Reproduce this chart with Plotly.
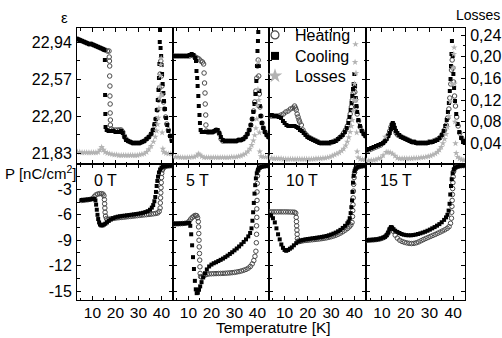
import plotly.graph_objects as go

# ---------------- data ----------------
FIELDS = ["0 T", "5 T", "10 T", "15 T"]

X_TICKS = [10, 20, 30, 40]
X_TICKTEXT = ["10", "20", "30", "40"]
X_MINOR = [5, 15, 25, 35]
EPS_TICKS = [21.83, 22.20, 22.57, 22.94]
EPS_TICKTEXT = ["21,83", "22,20", "22,57", "22,94"]
EPS_MINOR = [22.015, 22.385, 22.755]
LOSS_TICKS = [0.04, 0.08, 0.12, 0.16, 0.20, 0.24]
LOSS_TICKTEXT = ["0,04", "0,08", "0,12", "0,16", "0,20", "0,24"]
LOSS_MINOR = [0.02, 0.06, 0.10, 0.14, 0.18, 0.22]
P_TICKS = [-15, -12, -9, -6, -3]
P_TICKTEXT = ["-15", "-12", "-9", "-6", "-3"]
P_MINOR = [-13.5, -10.5, -7.5, -4.5, -1.5]

# (temperature K, permittivity) cooling / heating ; (T, losses) ; (T, P nC/cm2)
EPS_COOL_0T = [(3.5,22.97),(4.5,22.96),(5.5,22.95),(6.5,22.94),(7.5,22.93),(8.5,22.92),(9.5,22.92),(10.5,22.91),(11.5,22.90),(12.5,22.89),(13.5,22.88),(14.5,22.87),(15.2,22.86),(15.4,22.76),(15.5,22.41),(15.6,22.22),(15.7,22.09),(16.2,22.06),(17,22.05),(18,22.05),(19,22.05),(20,22.04),(21,22.04),(21.8,22.04),(22.5,22.05),(23.2,22.03),(23.9,21.99),(24.6,21.96),(25.5,21.95),(26.5,21.94),(27.5,21.93),(28.5,21.93),(29.5,21.93),(30.5,21.93),(31.5,21.94),(32.5,21.95),(33.5,21.97),(34.5,21.99),(35.5,22.02),(36.3,22.06),(37,22.12),(37.5,22.17),(38,22.26),(38.4,22.36),(38.7,22.46),(38.9,22.58),(39.1,22.72),(39.25,22.94),(39.35,23.06),(39.6,22.88),(39.85,22.80),(40.05,22.71),(40.25,22.62),(40.5,22.52),(40.8,22.43),(41.1,22.35),(41.5,22.27),(42,22.18),(42.5,22.11),(43,22.05),(43.7,22.00),(44.5,21.95)]
EPS_HEAT_0T = [(3.5,22.97),(4.5,22.96),(5.5,22.95),(6.5,22.94),(7.5,22.93),(8.5,22.92),(9.5,22.92),(10.5,22.91),(11.5,22.90),(12.5,22.89),(13.5,22.88),(14.5,22.87),(15.5,22.86),(16.5,22.85),(17.2,22.85),(17.3,22.79),(17.4,22.75),(17.5,22.70),(17.5,22.60),(17.6,22.50),(17.6,22.40),(17.7,22.32),(17.7,22.23),(17.8,22.16),(17.8,22.11),(18.2,22.07),(19,22.06),(20,22.06),(21,22.06),(21.8,22.06),(22.5,22.06),(23.2,22.04),(23.9,22.00),(24.6,21.97),(25.5,21.95),(26.5,21.94),(27.5,21.93),(28.5,21.93),(29.5,21.93),(30.5,21.93),(31.5,21.94),(32.5,21.95),(33.5,21.97),(34.5,21.99),(35.5,22.02),(36.3,22.06),(37,22.11),(37.6,22.17),(38.2,22.26),(38.7,22.36),(39.1,22.48),(39.4,22.62),(39.7,22.75),(39.95,22.60),(40.2,22.50),(40.5,22.42),(40.9,22.34),(41.3,22.27),(41.8,22.19),(42.3,22.12),(43,22.06),(43.8,22.00),(44.5,21.96)]
LOSS_0T = [(3.5,0.024),(4.5,0.024),(5.5,0.023),(6.5,0.023),(7.5,0.023),(8.5,0.023),(9.5,0.023),(10.5,0.023),(11.5,0.023),(12.5,0.024),(13.3,0.028),(14.0,0.033),(14.8,0.028),(15.5,0.024),(16.5,0.022),(17.5,0.021),(18.5,0.020),(19.5,0.019),(20.5,0.019),(21.5,0.018),(22.5,0.018),(23.5,0.018),(24.5,0.018),(25.5,0.018),(26.5,0.018),(27.5,0.018),(28.5,0.018),(29.5,0.018),(30.5,0.019),(31.5,0.020),(32.5,0.021),(33.5,0.024),(34.5,0.029),(35.5,0.035),(36.5,0.043),(37.3,0.052),(37.9,0.063),(38.3,0.075),(38.6,0.087),(38.9,0.105),(39.1,0.124),(39.3,0.145),(39.5,0.165),(39.7,0.185),(39.85,0.197),(40.1,0.13),(40.3,0.06),(40.6,0.03),(41.0,0.024),(42,0.022),(43,0.021),(44,0.021),(44.8,0.021)]
P_COOL_0T = [(5.3,-4.25),(6.0,-4.27),(7.0,-4.23),(8.0,-4.2),(9.0,-4.17),(10.0,-4.13),(10.8,-4.12),(11.3,-4.3),(11.6,-4.8),(11.9,-5.4),(12.2,-6.0),(12.5,-6.5),(12.9,-6.9),(13.3,-7.15),(13.8,-7.25),(14.4,-7.25),(15.0,-7.15),(15.6,-7.05),(16.3,-6.9),(17.1,-6.72),(18,-6.55),(19,-6.4),(20,-6.3),(21,-6.22),(22,-6.17),(23,-6.13),(24,-6.1),(25,-6.06),(26,-6.03),(27,-5.99),(28,-5.95),(29,-5.91),(30,-5.87),(31,-5.82),(32,-5.76),(33,-5.68),(34,-5.57),(35,-5.4),(35.8,-5.15),(36.4,-4.85),(36.9,-4.4),(37.3,-3.9),(37.6,-3.3),(37.9,-2.6),(38.2,-2.0),(38.5,-1.5),(38.9,-1.0),(39.4,-0.65),(40,-0.42),(40.8,-0.3),(41.6,-0.25),(42.5,-0.22),(43.5,-0.2),(44.5,-0.18)]
P_HEAT_0T = [(5.3,-4.3),(6,-4.28),(7,-4.25),(8,-4.22),(9,-4.18),(10,-4.08),(10.8,-3.85),(11.5,-3.65),(12.3,-3.55),(13.1,-3.5),(13.9,-3.5),(14.6,-3.55),(15.0,-3.75),(15.2,-4.2),(15.3,-4.7),(15.4,-5.2),(15.5,-5.7),(15.7,-6.15),(16.1,-6.45),(16.8,-6.55),(17.6,-6.5),(18.5,-6.45),(19.5,-6.41),(20.5,-6.37),(21.5,-6.34),(22.5,-6.31),(23.5,-6.28),(24.5,-6.25),(25.5,-6.22),(26.5,-6.19),(27.5,-6.16),(28.5,-6.13),(29.5,-6.1),(30.5,-6.07),(31.5,-6.04),(32.5,-6.01),(33.5,-5.98),(34.5,-5.95),(35.5,-5.92),(36.5,-5.88),(37.5,-5.84),(38.4,-5.78),(39.0,-5.6),(39.4,-5.2),(39.5,-4.6),(39.6,-4.0),(39.7,-3.4),(39.8,-2.8),(39.9,-2.2),(40.0,-1.6),(40.1,-1.1),(40.4,-0.7),(40.9,-0.45),(41.6,-0.32),(42.5,-0.25),(43.5,-0.22),(44.5,-0.2)]

EPS_COOL_5T = [(3.5,22.80),(4.5,22.80),(5.5,22.80),(6.5,22.80),(7.5,22.80),(8.5,22.80),(9.5,22.80),(10.5,22.81),(11.4,22.82),(12.2,22.81),(12.9,22.78),(13.3,22.75),(13.5,22.65),(13.8,22.58),(14.0,22.50),(14.3,22.40),(14.5,22.30),(14.8,22.21),(15.0,22.13),(15.3,22.06),(15.8,22.04),(16.5,22.04),(17.5,22.04),(18.5,22.04),(19.5,22.04),(20.5,22.04),(21.3,22.05),(22.0,22.06),(22.7,22.06),(23.4,22.03),(24.1,21.99),(24.9,21.96),(25.8,21.95),(26.8,21.95),(27.8,21.95),(28.8,21.95),(29.8,21.95),(30.8,21.95),(31.8,21.96),(32.8,21.96),(33.8,21.97),(34.8,21.99),(35.6,22.02),(36.4,22.06),(37.1,22.11),(37.7,22.17),(38.2,22.24),(38.7,22.32),(39.1,22.42),(39.5,22.55),(39.8,22.70),(40.0,22.85),(40.2,22.95),(40.35,23.04),(40.6,22.70),(40.8,22.45),(41.0,22.30),(41.4,22.20),(41.9,22.13),(42.5,22.08),(43.2,22.04),(44.0,22.01),(44.8,21.99)]
EPS_HEAT_5T = [(3.5,22.80),(4.5,22.80),(5.5,22.80),(6.5,22.80),(7.5,22.80),(8.5,22.80),(9.5,22.80),(10.5,22.80),(11.4,22.81),(12.2,22.80),(13.0,22.79),(13.8,22.78),(14.6,22.77),(15.4,22.75),(16.1,22.74),(16.6,22.72),(16.8,22.63),(17.0,22.53),(17.2,22.43),(17.3,22.32),(17.5,22.21),(17.6,22.11),(17.8,22.05),(18.3,22.04),(19.0,22.04),(19.8,22.04),(20.6,22.04),(21.4,22.05),(22.1,22.06),(22.8,22.05),(23.5,22.02),(24.2,21.97),(24.9,21.95),(25.8,21.95),(26.8,21.95),(27.8,21.95),(28.8,21.95),(29.8,21.95),(30.8,21.95),(31.8,21.96),(32.8,21.96),(33.8,21.97),(34.8,21.99),(35.6,22.02),(36.4,22.06),(37.1,22.11),(37.7,22.17),(38.3,22.25),(38.8,22.34),(39.3,22.45),(39.7,22.58),(40.0,22.70),(40.3,22.76),(40.55,22.60),(40.8,22.42),(41.1,22.29),(41.5,22.20),(42.0,22.13),(42.6,22.08),(43.3,22.04),(44.1,22.01),(44.8,21.99)]
LOSS_5T = [(3.5,0.015),(4.5,0.015),(5.5,0.015),(6.5,0.014),(7.5,0.014),(8.5,0.014),(9.5,0.014),(10.5,0.014),(11.5,0.015),(12.5,0.015),(13.5,0.017),(14.3,0.021),(15.0,0.019),(15.8,0.016),(16.8,0.014),(17.8,0.014),(18.8,0.014),(19.8,0.014),(20.8,0.014),(21.8,0.014),(22.8,0.014),(23.8,0.014),(24.8,0.014),(25.8,0.014),(26.8,0.014),(27.8,0.014),(28.8,0.015),(29.8,0.015),(30.8,0.015),(31.8,0.016),(32.8,0.017),(33.8,0.019),(34.8,0.021),(35.8,0.025),(36.7,0.030),(37.5,0.037),(38.2,0.045),(38.8,0.055),(39.3,0.068),(39.7,0.085),(40.0,0.110),(40.2,0.140),(40.4,0.190),(40.6,0.120),(40.8,0.060),(41.0,0.025),(41.5,0.016),(42.5,0.015),(43.5,0.015),(44.5,0.015)]
P_COOL_5T = [(3.5,-7.05),(4.5,-7.05),(5.5,-7.05),(6.5,-7.03),(7.5,-7.02),(8.5,-7.0),(9.5,-6.98),(10.3,-6.97),(10.8,-7.3),(11.2,-8.3),(11.6,-9.6),(12.0,-11.0),(12.4,-12.4),(12.8,-13.8),(13.2,-14.8),(13.6,-15.25),(14.1,-15.2),(14.6,-14.85),(15.1,-14.45),(15.7,-13.95),(16.4,-13.4),(17.2,-12.9),(18.0,-12.45),(19,-12.1),(20,-11.88),(21,-11.72),(22,-11.6),(23,-11.46),(24,-11.32),(25,-11.17),(26,-11.0),(27,-10.82),(28,-10.62),(29,-10.42),(30,-10.2),(31,-9.98),(32,-9.74),(33,-9.48),(34,-9.2),(35,-8.9),(36,-8.55),(36.8,-8.15),(37.4,-7.6),(37.8,-6.7),(38.1,-5.7),(38.4,-4.6),(38.7,-3.5),(39.0,-2.5),(39.3,-1.7),(39.7,-1.1),(40.2,-0.7),(40.9,-0.45),(41.7,-0.33),(42.6,-0.27),(43.6,-0.23),(44.6,-0.2)]
P_HEAT_5T = [(3.5,-7.07),(4.5,-7.07),(5.5,-7.06),(6.5,-7.05),(7.5,-7.03),(8.5,-7.0),(9.5,-6.95),(10.3,-6.75),(11.0,-6.5),(11.7,-6.3),(12.4,-6.15),(13.0,-6.07),(13.6,-6.1),(14.0,-6.35),(14.3,-6.8),(14.4,-7.43),(14.5,-8.21),(14.6,-9.0),(14.7,-9.79),(14.8,-10.57),(14.9,-11.35),(15.0,-12.14),(15.1,-12.92),(15.3,-13.3),(15.8,-13.35),(16.5,-13.25),(17.3,-13.1),(18.1,-13.02),(19,-12.98),(20,-12.96),(21,-12.95),(22,-12.94),(23,-12.93),(24,-12.92),(25,-12.91),(26,-12.9),(27,-12.88),(28,-12.86),(29,-12.83),(30,-12.8),(31,-12.75),(32,-12.7),(33,-12.63),(34,-12.55),(35,-12.45),(36,-12.3),(36.9,-12.1),(37.7,-11.8),(38.4,-11.4),(38.9,-10.9),(39.3,-10.3),(39.5,-9.3),(39.6,-8.3),(39.6,-7.3),(39.7,-6.3),(39.7,-5.3),(39.8,-4.3),(39.8,-3.3),(39.9,-2.3),(40.0,-1.4),(40.2,-0.8),(40.6,-0.5),(41.3,-0.35),(42.3,-0.26),(43.4,-0.22),(44.5,-0.2)]

EPS_COOL_10T = [(3.5,22.21),(4.5,22.21),(5.5,22.20),(6.5,22.20),(7.5,22.19),(8.5,22.18),(9.3,22.15),(10.0,22.13),(10.8,22.11),(11.6,22.10),(12.5,22.10),(13.4,22.10),(14.3,22.10),(15.1,22.09),(15.8,22.08),(16.6,22.06),(17.4,22.05),(18.2,22.03),(19.0,22.01),(19.8,21.99),(20.6,21.98),(21.4,21.97),(22.3,21.96),(23.2,21.95),(24.1,21.94),(25.0,21.93),(26.0,21.93),(27.0,21.93),(28.0,21.93),(29.0,21.93),(30.0,21.94),(31.0,21.94),(32.0,21.95),(33.0,21.97),(34.0,21.99),(35.0,22.01),(35.9,22.04),(36.7,22.08),(37.4,22.13),(37.9,22.19),(38.4,22.26),(38.8,22.33),(39.1,22.40),(39.4,22.47),(39.7,22.52),(40.0,22.62),(40.3,22.50),(40.6,22.38),(40.9,22.30),(41.2,22.24),(41.7,22.16),(42.4,22.10),(43.2,22.05),(44.0,22.02),(44.8,22.00)]
EPS_HEAT_10T = [(3.5,22.20),(4.5,22.20),(5.5,22.20),(6.5,22.20),(7.5,22.20),(8.5,22.21),(9.5,22.22),(10.5,22.24),(11.5,22.25),(12.5,22.27),(13.5,22.28),(14.3,22.30),(14.7,22.28),(15.0,22.26),(15.4,22.22),(15.8,22.19),(16.2,22.16),(16.5,22.14),(17.2,22.11),(17.9,22.06),(18.6,22.03),(19.4,22.01),(20.2,21.99),(21.0,21.98),(21.8,21.97),(22.7,21.96),(23.6,21.95),(24.5,21.94),(25.5,21.93),(26.5,21.93),(27.5,21.93),(28.5,21.93),(29.5,21.93),(30.5,21.94),(31.5,21.95),(32.5,21.96),(33.5,21.98),(34.5,22.00),(35.4,22.03),(36.2,22.06),(37.0,22.10),(37.7,22.16),(38.2,22.22),(38.7,22.29),(39.1,22.36),(39.5,22.43),(39.9,22.48),(40.2,22.44),(40.5,22.36),(40.8,22.29),(41.2,22.22),(41.8,22.15),(42.5,22.09),(43.3,22.05),(44.1,22.02),(44.8,22.00)]
LOSS_10T = [(3.5,0.013),(4.5,0.013),(5.5,0.012),(6.5,0.012),(7.5,0.012),(8.5,0.012),(9.5,0.011),(10.5,0.011),(11.5,0.011),(12.5,0.011),(13.5,0.011),(14.5,0.011),(15.5,0.011),(16.5,0.011),(17.5,0.011),(18.5,0.011),(19.5,0.011),(20.5,0.011),(21.5,0.011),(22.5,0.011),(23.5,0.012),(24.5,0.012),(25.5,0.012),(26.5,0.013),(27.5,0.013),(28.5,0.014),(29.5,0.015),(30.5,0.017),(31.5,0.019),(32.5,0.021),(33.5,0.023),(34.5,0.026),(35.4,0.030),(36.3,0.036),(37.0,0.043),(37.6,0.051),(38.2,0.061),(38.7,0.072),(39.1,0.083),(39.5,0.100),(39.8,0.120),(40.1,0.150),(40.3,0.190),(40.5,0.223),(40.7,0.170),(40.85,0.120),(41.0,0.060),(41.2,0.025),(41.6,0.014),(42.5,0.011),(43.5,0.010),(44.5,0.010)]
P_COOL_10T = [(3.5,-6.0),(4.2,-6.1),(5.0,-6.4),(5.8,-6.9),(6.5,-7.6),(7.2,-8.3),(7.9,-8.9),(8.6,-9.5),(9.3,-9.9),(10.0,-10.15),(10.7,-10.25),(11.5,-10.15),(12.3,-10.0),(13.1,-9.85),(14,-9.6),(15,-9.35),(16,-9.15),(17,-9.02),(18,-8.96),(19,-8.9),(20,-8.86),(21,-8.82),(22,-8.78),(23,-8.74),(24,-8.7),(25,-8.66),(26,-8.61),(27,-8.56),(28,-8.5),(29,-8.42),(30,-8.33),(31,-8.22),(32,-8.1),(33,-7.95),(34,-7.78),(35,-7.55),(36,-7.3),(37,-7.0),(37.5,-6.8),(38.0,-6.4),(38.4,-5.8),(38.7,-5.1),(39.0,-4.3),(39.2,-3.3),(39.4,-2.2),(39.7,-1.4),(40.1,-0.85),(40.6,-0.55),(41.3,-0.38),(42.1,-0.28),(43.0,-0.23),(44.0,-0.2),(44.8,-0.18)]
P_HEAT_10T = [(3.5,-5.65),(4.5,-5.65),(5.5,-5.65),(6.5,-5.65),(7.5,-5.65),(8.5,-5.65),(9.5,-5.65),(10.5,-5.65),(11.5,-5.66),(12.5,-5.67),(13.5,-5.68),(14.3,-5.7),(14.8,-5.8),(15.0,-6.3),(15.1,-6.8),(15.2,-7.3),(15.3,-7.8),(15.4,-8.3),(15.5,-8.8),(15.8,-9.1),(16.5,-9.15),(17.3,-9.1),(18.2,-9.05),(19.1,-9.02),(20,-9.0),(21,-8.97),(22,-8.94),(23,-8.91),(24,-8.88),(25,-8.85),(26,-8.81),(27,-8.77),(28,-8.72),(29,-8.66),(30,-8.59),(31,-8.51),(32,-8.42),(33,-8.3),(34,-8.16),(35,-8.0),(36,-7.82),(37,-7.62),(37.8,-7.42),(38.5,-7.2),(39.0,-6.9),(39.2,-6.2),(39.3,-5.5),(39.4,-4.8),(39.5,-4.0),(39.6,-3.2),(39.7,-2.4),(39.9,-1.6),(40.1,-1.0),(40.5,-0.6),(41.2,-0.4),(42.2,-0.3),(43.3,-0.25),(44.5,-0.21)]

EPS_COOL_15T = [(3.5,21.86),(4.5,21.87),(5.5,21.88),(6.5,21.89),(7.5,21.90),(8.5,21.91),(9.5,21.92),(10.5,21.93),(11.3,21.95),(12.0,21.97),(12.7,22.00),(13.3,22.03),(13.8,22.07),(14.2,22.11),(14.6,22.13),(15.0,22.11),(15.4,22.08),(15.9,22.05),(16.5,22.03),(17.3,22.01),(18.1,21.99),(19.0,21.98),(19.9,21.97),(20.8,21.96),(21.7,21.95),(22.6,21.94),(23.5,21.94),(24.4,21.93),(25.3,21.93),(26.3,21.93),(27.3,21.93),(28.3,21.93),(29.3,21.93),(30.3,21.94),(31.3,21.94),(32.3,21.95),(33.3,21.96),(34.3,21.98),(35.2,22.01),(36.0,22.05),(36.7,22.10),(37.3,22.16),(37.8,22.24),(38.2,22.33),(38.6,22.45),(38.9,22.57),(39.1,22.70),(39.3,22.82),(39.5,22.95),(39.8,22.80),(40.1,22.62),(40.4,22.48),(40.8,22.35),(41.3,22.22),(41.9,22.12),(42.6,22.04),(43.4,21.98),(44.2,21.95),(44.9,21.93)]
EPS_HEAT_15T = [(3.5,21.85),(4.5,21.86),(5.5,21.87),(6.5,21.88),(7.5,21.89),(8.5,21.90),(9.5,21.91),(10.5,21.93),(11.3,21.95),(12.0,21.98),(12.7,22.01),(13.3,22.05),(13.8,22.09),(14.3,22.12),(14.7,22.12),(15.1,22.09),(15.5,22.06),(16.0,22.03),(16.7,22.01),(17.5,22.00),(18.4,21.99),(19.3,21.98),(20.2,21.97),(21.1,21.96),(22.0,21.95),(22.9,21.94),(23.8,21.94),(24.8,21.93),(25.8,21.93),(26.8,21.93),(27.8,21.93),(28.8,21.93),(29.8,21.94),(30.8,21.94),(31.8,21.95),(32.8,21.96),(33.8,21.97),(34.7,21.99),(35.6,22.02),(36.4,22.06),(37.1,22.11),(37.7,22.18),(38.2,22.27),(38.6,22.38),(39.0,22.52),(39.3,22.66),(39.6,22.76),(39.9,22.68),(40.2,22.54),(40.6,22.40),(41.0,22.30),(41.5,22.19),(42.1,22.10),(42.8,22.03),(43.6,21.98),(44.4,21.95)]
LOSS_15T = [(3.5,0.008),(4.5,0.008),(5.5,0.009),(6.5,0.009),(7.5,0.010),(8.5,0.012),(9.5,0.013),(10.5,0.018),(11.4,0.052),(11.8,0.024),(12.6,0.024),(13.5,0.023),(14.5,0.021),(15.5,0.017),(16.5,0.013),(17.5,0.012),(18.5,0.012),(19.5,0.012),(20.5,0.012),(21.5,0.012),(22.5,0.012),(23.5,0.013),(24.5,0.013),(25.5,0.013),(26.5,0.014),(27.5,0.014),(28.5,0.015),(29.5,0.016),(30.5,0.017),(31.5,0.019),(32.5,0.021),(33.4,0.024),(34.2,0.028),(35.0,0.033),(35.7,0.040),(36.4,0.048),(37.0,0.057),(37.6,0.070),(38.2,0.090),(38.9,0.117),(39.5,0.150),(40.0,0.180),(40.3,0.205),(40.45,0.217),(40.6,0.150),(40.8,0.080),(41.0,0.040),(41.3,0.022),(41.9,0.015),(42.7,0.012),(43.6,0.010),(44.5,0.009)]
P_COOL_15T = [(3.5,-9.0),(4.5,-8.99),(5.5,-8.97),(6.5,-8.95),(7.5,-8.92),(8.5,-8.88),(9.5,-8.8),(10.5,-8.7),(11.3,-8.6),(12.0,-8.4),(12.6,-8.1),(13.2,-7.7),(13.8,-7.45),(14.3,-7.5),(14.9,-7.7),(15.6,-7.88),(16.5,-8.02),(17.4,-8.15),(18.3,-8.27),(19.2,-8.35),(20.2,-8.4),(21.2,-8.42),(22.2,-8.42),(23.2,-8.39),(24.2,-8.34),(25.2,-8.27),(26.2,-8.19),(27.2,-8.1),(28.2,-8.0),(29.2,-7.88),(30.2,-7.75),(31.2,-7.6),(32.2,-7.45),(33.2,-7.28),(34.2,-7.1),(35.2,-6.88),(36.2,-6.6),(37.0,-6.3),(37.6,-6.0),(38.1,-5.5),(38.5,-4.7),(38.8,-3.6),(39.1,-2.6),(39.4,-1.8),(39.8,-1.1),(40.3,-0.65),(41.0,-0.4),(41.8,-0.3),(42.7,-0.24),(43.7,-0.2),(44.7,-0.17)]
P_HEAT_15T = [(3.5,-9.02),(4.5,-9.0),(5.5,-8.98),(6.5,-8.96),(7.5,-8.93),(8.5,-8.89),(9.5,-8.82),(10.5,-8.72),(11.3,-8.6),(12.0,-8.42),(12.6,-8.15),(13.2,-7.8),(13.7,-7.55),(14.2,-7.6),(14.8,-7.95),(15.6,-8.4),(16.5,-8.75),(17.5,-9.0),(18.5,-9.15),(19.5,-9.25),(20.5,-9.32),(21.5,-9.37),(22.5,-9.39),(23.5,-9.37),(24.5,-9.3),(25.5,-9.2),(26.5,-9.06),(27.5,-8.92),(28.5,-8.79),(29.5,-8.67),(30.5,-8.55),(31.5,-8.43),(32.5,-8.31),(33.5,-8.18),(34.5,-8.05),(35.5,-7.91),(36.5,-7.77),(37.5,-7.6),(38.3,-7.4),(38.9,-7.0),(39.3,-6.4),(39.4,-5.7),(39.5,-5.0),(39.6,-4.3),(39.7,-3.6),(39.8,-2.9),(39.9,-2.2),(40.0,-1.5),(40.2,-0.9),(40.6,-0.55),(41.3,-0.35),(42.3,-0.26),(43.4,-0.21),(44.5,-0.19)]

EPS_COOL = [EPS_COOL_0T, EPS_COOL_5T, EPS_COOL_10T, EPS_COOL_15T]
EPS_HEAT = [EPS_HEAT_0T, EPS_HEAT_5T, EPS_HEAT_10T, EPS_HEAT_15T]
LOSSES = [LOSS_0T, LOSS_5T, LOSS_10T, LOSS_15T]
P_COOL = [P_COOL_0T, P_COOL_5T, P_COOL_10T, P_COOL_15T]
P_HEAT = [P_HEAT_0T, P_HEAT_5T, P_HEAT_10T, P_HEAT_15T]

LEGEND_NAMES = ["Heating", "Cooling", "Losses"]

# ---------------- layout geometry ----------------
W, H = 502, 338
X_EDGES = [77, 173, 269, 366, 465]
TOP_ROW = (28, 164)
BOT_ROW = (164, 300)
X_RANGE = [3.3, 45.0]
EPS_RANGE = [21.72, 23.08]
LOSS_RANGE = [0.002, 0.253]
P_RANGE = [-16.06, 0.0]

FONT = "Liberation Sans, Arial, Helvetica, sans-serif"
HEAT_COLOR = "#4a4a4a"
COOL_COLOR = "#000000"
LOSS_COLOR = "#b3b3b3"


def fx(px):
    return px / W


def fy(py):
    return 1 - py / H


def unzip(pairs):
    return [p[0] for p in pairs], [p[1] for p in pairs]


def heat_marker():
    return dict(symbol="circle-open", size=4.5, color=HEAT_COLOR, line=dict(width=1, color=HEAT_COLOR))


def cool_marker():
    return dict(symbol="square", size=4, color=COOL_COLOR, line=dict(width=0))


def loss_marker():
    return dict(symbol="star", size=5, color=LOSS_COLOR, line=dict(width=0))


fig = go.Figure()
layout = {}

axis_common = dict(showline=True, linecolor="black", linewidth=1, ticks="inside",
                   ticklen=4, tickwidth=1, tickcolor="black", showgrid=False,
                   zeroline=False, tickfont=dict(family=FONT, size=16, color="black"))

for i in range(4):
    xt, xb = i + 1, i + 5
    yt, yb, yl = i + 1, i + 5, i + 9
    dom_x = [fx(X_EDGES[i]), fx(X_EDGES[i + 1])]

    layout[f"xaxis{xt}"] = dict(axis_common, domain=dom_x, anchor=f"y{yt}", range=X_RANGE,
                                tickmode="array", tickvals=X_TICKS, ticktext=X_TICKTEXT,
                                showticklabels=False, mirror="ticks",
                                minor=dict(tickmode="array", tickvals=X_MINOR, ticks="inside",
                                           ticklen=2.5, tickcolor="black"))
    layout[f"xaxis{xb}"] = dict(axis_common, domain=dom_x, anchor=f"y{yb}", range=X_RANGE,
                                tickmode="array", tickvals=X_TICKS, ticktext=X_TICKTEXT,
                                showticklabels=True, mirror="ticks", ticklabelstandoff=-2,
                                tickfont=dict(family=FONT, size=15.5, color="black"),
                                minor=dict(tickmode="array", tickvals=X_MINOR, ticks="inside",
                                           ticklen=2.5, tickcolor="black"))
    layout[f"yaxis{yt}"] = dict(axis_common, domain=[fy(TOP_ROW[1]), fy(TOP_ROW[0])],
                                anchor=f"x{xt}", range=EPS_RANGE, tickmode="array",
                                tickvals=EPS_TICKS, ticktext=EPS_TICKTEXT,
                                showticklabels=(i == 0), mirror=("ticks" if i < 3 else True),
                                ticklabelstandoff=1,
                                minor=dict(tickmode="array", tickvals=EPS_MINOR, ticks="inside",
                                           ticklen=2.5, tickcolor="black"))
    layout[f"yaxis{yb}"] = dict(axis_common, domain=[fy(BOT_ROW[1]), fy(BOT_ROW[0])],
                                anchor=f"x{xb}", range=P_RANGE, tickmode="array",
                                tickvals=P_TICKS, ticktext=P_TICKTEXT,
                                showticklabels=(i == 0), mirror="ticks", ticklabelstandoff=1,
                                minor=dict(tickmode="array", tickvals=P_MINOR, ticks="inside",
                                           ticklen=2.5, tickcolor="black"))
    if i < 3:
        layout[f"yaxis{yl}"] = dict(overlaying=f"y{yt}", anchor=f"x{xt}", side="right",
                                    range=LOSS_RANGE, visible=False, showgrid=False, zeroline=False)
    else:
        layout[f"yaxis{yl}"] = dict(axis_common, overlaying=f"y{yt}", anchor=f"x{xt}", side="right",
                                    range=LOSS_RANGE, tickmode="array", tickvals=LOSS_TICKS,
                                    ticktext=LOSS_TICKTEXT, showticklabels=True,
                                    ticklabelstandoff=1,
                                    minor=dict(tickmode="array", tickvals=LOSS_MINOR, ticks="inside",
                                               ticklen=2.5, tickcolor="black"))

    tx, ty = unzip(LOSSES[i])
    fig.add_trace(go.Scatter(x=tx, y=ty, mode="markers", marker=loss_marker(), showlegend=False,
                             xaxis=f"x{xt}", yaxis=f"y{yl}"))
    tx, ty = unzip(EPS_HEAT[i])
    fig.add_trace(go.Scatter(x=tx, y=ty, mode="markers", marker=heat_marker(), showlegend=False,
                             xaxis=f"x{xt}", yaxis=f"y{yt}"))
    tx, ty = unzip(EPS_COOL[i])
    fig.add_trace(go.Scatter(x=tx, y=ty, mode="markers", marker=cool_marker(), showlegend=False,
                             xaxis=f"x{xt}", yaxis=f"y{yt}"))
    tx, ty = unzip(P_HEAT[i])
    fig.add_trace(go.Scatter(x=tx, y=ty, mode="markers", marker=heat_marker(), showlegend=False,
                             xaxis=f"x{xb}", yaxis=f"y{yb}"))
    tx, ty = unzip(P_COOL[i])
    fig.add_trace(go.Scatter(x=tx, y=ty, mode="markers", marker=cool_marker(), showlegend=False,
                             xaxis=f"x{xb}", yaxis=f"y{yb}"))

# legend keys: one small legend per row so the row spacing matches the reference
legend_markers = [
    dict(symbol="circle-open", size=8, color=HEAT_COLOR, line=dict(width=1.2, color=HEAT_COLOR)),
    dict(symbol="square", size=8, color=COOL_COLOR),
    dict(symbol="star", size=11, color=LOSS_COLOR),
]
legend_ids = ["legend", "legend2", "legend3"]
legend_tops = [18, 39, 59]
legend_layout = {}
for name, mk, lid, top in zip(LEGEND_NAMES, legend_markers, legend_ids, legend_tops):
    fig.add_trace(go.Scatter(x=[None], y=[None], mode="markers", name=name, marker=mk,
                             legend=lid, xaxis="x3", yaxis="y3"))
    legend_layout[lid] = dict(x=fx(255), y=fy(top), xanchor="left", yanchor="top",
                              bgcolor="rgba(0,0,0,0)", borderwidth=0,
                              font=dict(family=FONT, size=16, color="black"))

annotations = [
    dict(text="ε", x=fx(64), y=fy(17), size=15, yanchor="middle"),
    dict(text="Losses", x=fx(478), y=fy(15), size=14, yanchor="middle"),
    dict(text="P [nC/cm<sup>2</sup>]", x=fx(40), y=fy(172), size=15, yanchor="middle"),
    dict(text="Temperatutre [K]", x=fx(273), y=fy(337), size=15.5, yanchor="bottom"),
]
for name, cx in zip(FIELDS, [105, 197, 302, 396]):
    annotations.append(dict(text=name, x=fx(cx), y=fy(180), size=16, yanchor="middle"))

fig.update_layout(
    width=W, height=H, autosize=False,
    margin=dict(l=0, r=0, t=0, b=0),
    paper_bgcolor="white", plot_bgcolor="white",
    font=dict(family=FONT, size=16, color="black"),
    showlegend=True,
    annotations=[dict(text=a["text"], x=a["x"], y=a["y"], xref="paper", yref="paper",
                      xanchor="center", yanchor=a["yanchor"], showarrow=False,
                      borderpad=0,
                      font=dict(family=FONT, size=a["size"], color="black"))
                 for a in annotations],
    **legend_layout,
    **layout,
)

fig.write_html("out.html")
